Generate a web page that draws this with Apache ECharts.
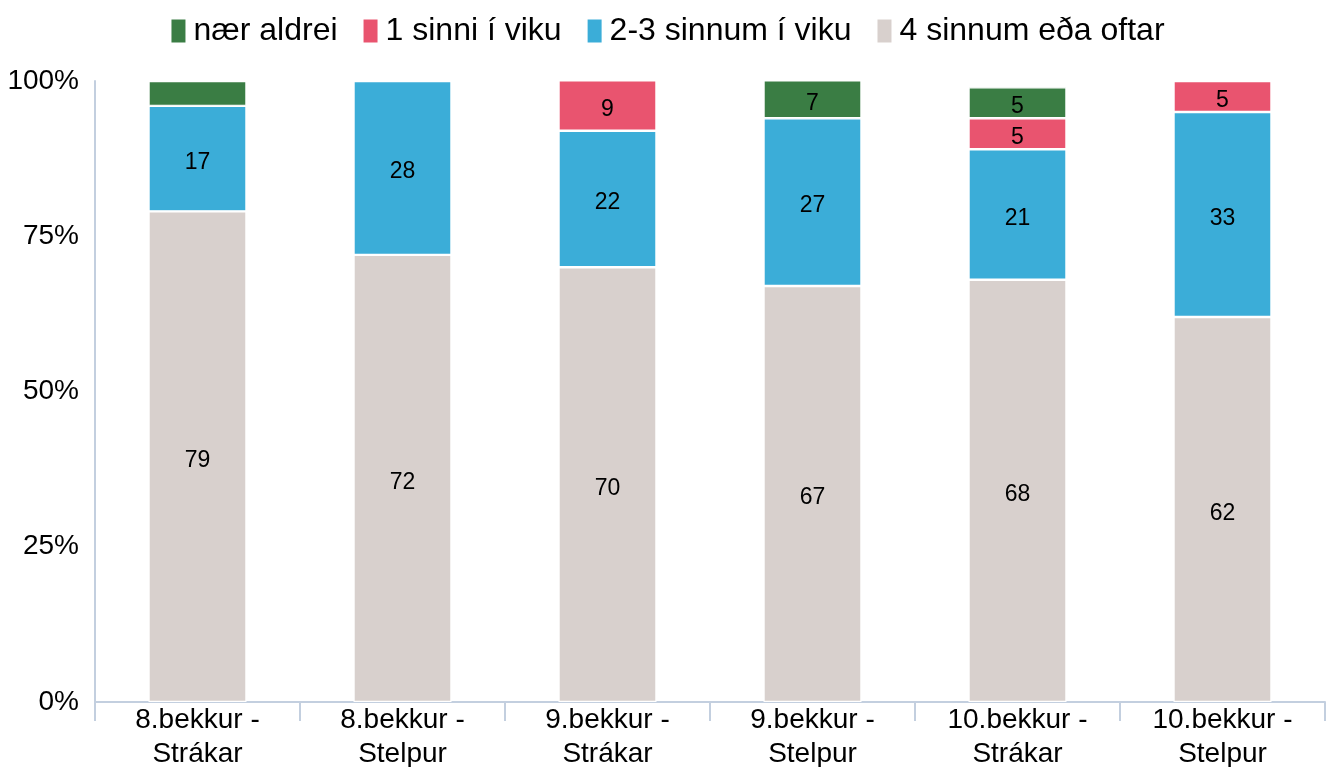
<!DOCTYPE html>
<html>
<head>
<meta charset="utf-8">
<script src="https://cdn.jsdelivr.net/npm/echarts@6/dist/echarts.min.js"></script>
<style>
html,body{margin:0;padding:0;background:#fff;}
#chart{width:1334px;height:767px;}
</style>
</head>
<body>
<div id="chart"></div>
<script>
const categories = ["8.bekkur -\nStrákar","8.bekkur -\nStelpur","9.bekkur -\nStrákar","9.bekkur -\nStelpur","10.bekkur -\nStrákar","10.bekkur -\nStelpur"];
const seriesNames = ["nær aldrei","1 sinni í viku","2-3 sinnum í viku","4 sinnum eða oftar"];
const naerAldrei = [4, null, null, 7, 5, null];
const einnSinni = [null, null, 9, null, 5, 5];
const tvoThrju = [17, 28, 22, 27, 21, 33];
const fjorirOftar = [79, 72, 70, 67, 68, 62];
const yTicks = [0, 25, 50, 75, 100];
const colors = {"nær aldrei":"#3a7d44","1 sinni í viku":"#e9546f","2-3 sinnum í viku":"#3badd8","4 sinnum eða oftar":"#d8d0cd"};

const chart = echarts.init(document.getElementById('chart'), null, {renderer:'canvas'});
const FONT = 'Liberation Sans, Arial, sans-serif';
function mk(name, data){
  return {
    name: name, type: 'bar', stack: 'total', data: data, barWidth: 98,
    itemStyle: {color: colors[name], borderColor: '#fff', borderWidth: 1.2},
    label: {show: true, position: 'inside', color: '#000', fontFamily: FONT, fontSize: 23,
      offset: [0, 4],
      formatter: p => (p.value != null && p.value >= 5) ? String(p.value) : ''}
  };
}
chart.setOption({
  animation: false,
  legend: {
    data: seriesNames, top: 10, left: 'center', itemWidth: 16, itemHeight: 25, itemGap: 24,
    icon: 'rect',
    textStyle: {fontFamily: FONT, fontSize: 32, color: '#000', padding: [0,0,0,2]}
  },
  grid: {left: 95, right: 9, top: 81, bottom: 65, containLabel: false, outerBoundsMode: 'none'},
  xAxis: {
    type: 'category', data: categories, boundaryGap: true,
    axisLine: {lineStyle: {color: '#c3cfdf', width: 2}},
    axisTick: {show: true, length: 19, alignWithLabel: false, lineStyle: {color: '#c3cfdf', width: 2}},
    axisLabel: {fontFamily: FONT, fontSize: 28, color: '#000', lineHeight: 34, margin: 1, interval: 0}
  },
  yAxis: {
    type: 'value', min: 0, max: 100, interval: 25,
    axisLine: {show: true, lineStyle: {color: '#c3cfdf', width: 2}},
    axisTick: {show: false}, splitLine: {show: false},
    axisLabel: {fontFamily: FONT, fontSize: 28, color: '#000', margin: 16, padding: [6,0,0,0],
      formatter: v => yTicks.includes(v) ? v + '%' : ''}
  },
  series: [
    mk("4 sinnum eða oftar", fjorirOftar),
    mk("2-3 sinnum í viku", tvoThrju),
    mk("1 sinni í viku", einnSinni),
    mk("nær aldrei", naerAldrei)
  ]
});
</script>
</body>
</html>
